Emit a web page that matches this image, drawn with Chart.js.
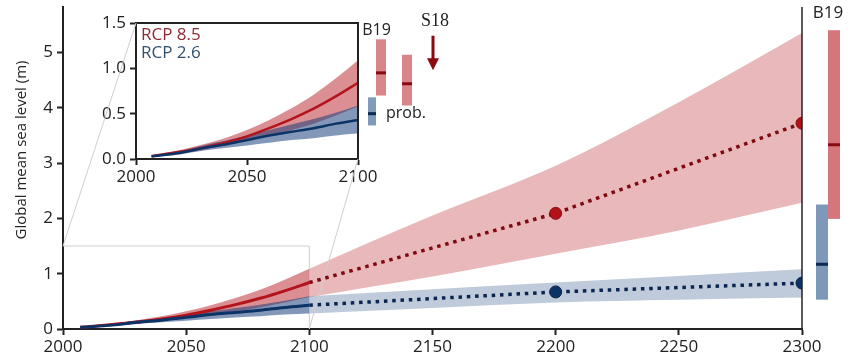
<!DOCTYPE html>
<html>
<head>
<meta charset="utf-8">
<script src="https://cdn.jsdelivr.net/npm/chart.js@4.4.1/dist/chart.umd.min.js"></script>
<style>
  html, body { margin: 0; padding: 0; background: #fff; }
  #wrap { position: relative; width: 863px; height: 359px; }
  #wrap canvas { position: absolute; left: 0; top: 0; }
</style>
</head>
<body>
<div id="wrap">
  <canvas id="mainChart" width="863" height="359"></canvas>
  <canvas id="insetChart" width="863" height="359"></canvas>
</div>
<script>
// sea level (m)
const nearYears  = [2007, 2020, 2030, 2040, 2050, 2060, 2070, 2080, 2090, 2100];
const rcp85Mid   = [0.03, 0.08, 0.125, 0.18, 0.25, 0.34, 0.44, 0.555, 0.69, 0.84];
const rcp85Low   = [0.02, 0.06, 0.10, 0.15, 0.20, 0.26, 0.32, 0.39, 0.48, 0.58];
const rcp85High  = [0.04, 0.10, 0.16, 0.23, 0.32, 0.43, 0.56, 0.71, 0.89, 1.09];
const rcp26Mid   = [0.03, 0.07, 0.12, 0.16, 0.21, 0.26, 0.30, 0.34, 0.39, 0.43];
const rcp26Low   = [0.02, 0.05, 0.09, 0.12, 0.15, 0.18, 0.21, 0.23, 0.26, 0.28];
const rcp26High  = [0.04, 0.09, 0.15, 0.20, 0.26, 0.32, 0.38, 0.44, 0.51, 0.59];

const farYears     = [2100, 2150, 2200, 2250, 2300];
const rcp85FarLow  = [0.58, 0.95, 1.36, 1.78, 2.28];
const rcp85FarHigh = [1.09, 2.05, 2.95, 4.10, 5.35];
const rcp26FarLow  = [0.28, 0.38, 0.48, 0.53, 0.57];
const rcp26FarHigh = [0.59, 0.72, 0.84, 0.96, 1.08];

const markYears = [2100, 2200, 2300];
const rcp85Mark = [0.84, 2.09, 3.72];
const rcp26Mark = [0.43, 0.67, 0.83];

// side ranges: [low, median, high]
const b19Main85    = [1.99, 3.33, 5.40];
const b19Main26    = [0.53, 1.17, 2.25];
const b19Inset85   = [0.70, 0.95, 1.32];
const otherInset85 = [0.59, 0.83, 1.15];
const probInset26  = [0.37, 0.50, 0.68];
const s18Arrow     = [1.36, 0.98];

const mainXTicks  = [2000, 2050, 2100, 2150, 2200, 2250, 2300];
const mainYTicks  = [0, 1, 2, 3, 4, 5];
const insetXTicks = [2000, 2050, 2100];
const insetYTicks = [0, 0.5, 1.0, 1.5];

Chart.defaults.font.family = "'Open Sans', sans-serif";
Chart.defaults.font.size = 17;
Chart.defaults.color = '#222';
Chart.defaults.animation = false;

const pts = (xs, ys) => xs.map((x, i) => ({ x: x, y: ys[i] }));

const RED_NEAR = 'rgba(180, 20, 30, 0.48)';
const BLUE_NEAR = 'rgba(20, 60, 120, 0.53)';
const RED_FAR = 'rgba(180, 20, 30, 0.30)';
const BLUE_FAR = 'rgba(20, 60, 120, 0.27)';
const RED_LINE = '#b3141c';
const BLUE_LINE = '#0c3366';

function band(xs, lo, hi, color, order) {
    return [
        { data: pts(xs, lo), borderWidth: 0, pointRadius: 0, fill: false, order: order, cubicInterpolationMode: 'monotone' },
        { data: pts(xs, hi), borderWidth: 0, pointRadius: 0, fill: '-1', backgroundColor: color, order: order, cubicInterpolationMode: 'monotone' }
    ];
}

function axisStyle() {
    return {
        border: { color: '#222', width: 2 },
        grid: { drawOnChartArea: false, drawTicks: true, tickLength: 6, tickWidth: 2, tickColor: '#222' }
    };
}

function rangeBar(ctx, x, w, yScale, r, fill, midColor) {
    const top = yScale.getPixelForValue(r[2]);
    const bot = yScale.getPixelForValue(r[0]);
    ctx.fillStyle = fill;
    ctx.fillRect(x, top, w, bot - top);
    const m = yScale.getPixelForValue(r[1]);
    ctx.fillStyle = midColor;
    ctx.fillRect(x, m - 1.5, w, 3);
}

// ---------- main chart ----------
const mainDecor = {
    id: 'mainDecor',
    beforeDatasetsDraw(chart) {
        const { ctx, scales: { x, y } } = chart;
        ctx.save();
        ctx.strokeStyle = '#cfcfcf';
        ctx.lineWidth = 1;
        ctx.beginPath();
        ctx.moveTo(x.getPixelForValue(2000), y.getPixelForValue(1.5));
        ctx.lineTo(x.getPixelForValue(2100), y.getPixelForValue(1.5));
        ctx.lineTo(x.getPixelForValue(2100), y.getPixelForValue(0));
        ctx.stroke();
        ctx.restore();
    },
    afterDraw(chart) {
        const { ctx, chartArea: a, scales: { y } } = chart;
        ctx.save();
        // right frame line
        ctx.strokeStyle = '#222';
        ctx.lineWidth = 1.5;
        ctx.beginPath();
        ctx.moveTo(a.right, a.top);
        ctx.lineTo(a.right, a.bottom);
        ctx.stroke();
        // B19 ranges for 2300
        rangeBar(ctx, a.right + 14, 12, y, b19Main26, '#7d98b9', '#0a2a55');
        rangeBar(ctx, a.right + 26, 12, y, b19Main85, '#d4767c', '#8b0a10');
        ctx.fillStyle = '#222';
        ctx.font = "17px 'Open Sans'";
        ctx.textAlign = 'center';
        ctx.textBaseline = 'middle';
        ctx.fillText('B19', a.right + 26, 13);
        // y axis title
        ctx.translate(22, 150);
        ctx.rotate(-Math.PI / 2);
        ctx.font = "15px 'Open Sans'";
        ctx.fillText('Global mean sea level (m)', 0, 0);
        ctx.restore();
    }
};

new Chart(document.getElementById('mainChart'), {
    type: 'line',
    data: {
        datasets: [
            ...band(nearYears, rcp85Low, rcp85High, RED_NEAR, 9),
            ...band(farYears, rcp85FarLow, rcp85FarHigh, RED_FAR, 9),
            ...band(nearYears, rcp26Low, rcp26High, BLUE_NEAR, 8),
            ...band(farYears, rcp26FarLow, rcp26FarHigh, BLUE_FAR, 8),
            { data: pts(nearYears, rcp85Mid), borderColor: RED_LINE, borderWidth: 3, pointRadius: 0, cubicInterpolationMode: 'monotone', order: 5 },
            { data: pts(nearYears, rcp26Mid), borderColor: BLUE_LINE, borderWidth: 3, pointRadius: 0, cubicInterpolationMode: 'monotone', order: 4 },
            { data: pts(markYears, rcp85Mark), borderColor: '#7d0a0e', borderWidth: 3.5, borderDash: [3.5, 4.8],
              pointRadius: [0, 6, 6], pointBackgroundColor: '#b3121a', pointBorderColor: '#8a0c10', pointBorderWidth: 1, order: 3 },
            { data: pts(markYears, rcp26Mark), borderColor: '#0a2550', borderWidth: 3.5, borderDash: [3.5, 4.8],
              pointRadius: [0, 6, 6], pointBackgroundColor: '#0c3366', pointBorderColor: '#082448', pointBorderWidth: 1, order: 2 }
        ]
    },
    options: {
        responsive: false,
        layout: { padding: { left: 0, top: 0, right: 61, bottom: 0 } },
        plugins: { legend: { display: false }, tooltip: { enabled: false } },
        scales: {
            x: {
                type: 'linear', min: 2000, max: 2300,
                ...axisStyle(),
                afterBuildTicks: s => { s.ticks = mainXTicks.map(v => ({ value: v })); },
                ticks: { padding: 2, maxRotation: 0, callback: v => String(v) },
                afterFit: s => { s.height = 30; }
            },
            y: {
                type: 'linear', min: 0, max: 5.82,
                ...axisStyle(),
                afterBuildTicks: s => { s.ticks = mainYTicks.map(v => ({ value: v })); },
                ticks: { padding: 4, callback: v => String(v) },
                afterFit: s => { s.width = 63; s.paddingTop = 0; }
            }
        }
    },
    plugins: [mainDecor]
});

// ---------- inset chart ----------
const insetDecor = {
    id: 'insetDecor',
    beforeDraw(chart) {
        const { ctx, chartArea: a } = chart;
        ctx.save();
        ctx.fillStyle = '#fff';
        ctx.fillRect(a.left, a.top, a.right - a.left, a.bottom - a.top);
        ctx.restore();
    },
    afterDraw(chart) {
        const { ctx, chartArea: a, scales: { y } } = chart;
        ctx.save();
        ctx.strokeStyle = '#222';
        ctx.lineWidth = 2;
        ctx.beginPath();
        ctx.moveTo(a.left, a.top);
        ctx.lineTo(a.right, a.top);
        ctx.lineTo(a.right, a.bottom);
        ctx.stroke();

        // zoom connectors to the 2000-2100 box of the main chart
        const main = Chart.getChart('mainChart');
        const mx = main.scales.x, my = main.scales.y;
        ctx.strokeStyle = '#cfcfcf';
        ctx.lineWidth = 1;
        ctx.beginPath();
        ctx.moveTo(mx.getPixelForValue(2000), my.getPixelForValue(1.5));
        ctx.lineTo(a.left, a.top);
        ctx.moveTo(mx.getPixelForValue(2100), my.getPixelForValue(0));
        ctx.lineTo(a.right, a.bottom);
        ctx.stroke();

        // side ranges for 2100
        rangeBar(ctx, a.right + 10, 8, y, probInset26, '#7f9aba', '#0a2a55');
        rangeBar(ctx, a.right + 18, 10, y, b19Inset85, '#d9868b', '#8b0a10');
        rangeBar(ctx, a.right + 44, 10, y, otherInset85, '#d9868b', '#8b0a10');

        // S18 arrow
        const ax = a.right + 75;
        const y0 = y.getPixelForValue(s18Arrow[0]);
        const y1 = y.getPixelForValue(s18Arrow[1]);
        ctx.strokeStyle = '#8b0a10';
        ctx.fillStyle = '#8b0a10';
        ctx.lineWidth = 3;
        ctx.beginPath();
        ctx.moveTo(ax, y0);
        ctx.lineTo(ax, y1 - 10);
        ctx.stroke();
        ctx.beginPath();
        ctx.moveTo(ax - 6, y1 - 12);
        ctx.lineTo(ax + 6, y1 - 12);
        ctx.lineTo(ax, y1);
        ctx.closePath();
        ctx.fill();

        ctx.textBaseline = 'middle';
        ctx.fillStyle = '#222';
        ctx.textAlign = 'center';
        ctx.font = "18px 'Liberation Serif'";
        ctx.fillText('S18', ax + 2, 21);
        ctx.font = "16px 'Open Sans'";
        ctx.fillText('B19', a.right + 18.5, 30);
        ctx.textAlign = 'left';
        ctx.fillText('prob.', a.right + 28, y.getPixelForValue(probInset26[1]));

        // legend
        ctx.font = "17px 'Open Sans'";
        ctx.fillStyle = '#8e2a33';
        ctx.fillText('RCP 8.5', a.left + 5, 35);
        ctx.fillStyle = '#34506f';
        ctx.fillText('RCP 2.6', a.left + 5, 53);
        ctx.restore();
    }
};

new Chart(document.getElementById('insetChart'), {
    type: 'line',
    data: {
        datasets: [
            ...band(nearYears, rcp85Low, rcp85High, RED_NEAR, 9),
            ...band(nearYears, rcp26Low, rcp26High, BLUE_NEAR, 8),
            { data: pts(nearYears, rcp85Mid), borderColor: RED_LINE, borderWidth: 2.5, pointRadius: 0, cubicInterpolationMode: 'monotone', order: 5 },
            { data: pts(nearYears, rcp26Mid), borderColor: BLUE_LINE, borderWidth: 2.5, pointRadius: 0, cubicInterpolationMode: 'monotone', order: 4 }
        ]
    },
    options: {
        responsive: false,
        layout: { padding: { left: 96, top: 23, right: 505, bottom: 170 } },
        plugins: { legend: { display: false }, tooltip: { enabled: false } },
        scales: {
            x: {
                type: 'linear', min: 2000, max: 2100,
                ...axisStyle(),
                afterBuildTicks: s => { s.ticks = insetXTicks.map(v => ({ value: v })); },
                ticks: { padding: 2, maxRotation: 0, callback: v => String(v) },
                afterFit: s => { s.height = 30; }
            },
            y: {
                type: 'linear', min: 0, max: 1.5,
                ...axisStyle(),
                afterBuildTicks: s => { s.ticks = insetYTicks.map(v => ({ value: v })); },
                ticks: { padding: 4, callback: v => v.toFixed(1) },
                afterFit: s => { s.width = 40; }
            }
        }
    },
    plugins: [insetDecor]
});
</script>
</body>
</html>
